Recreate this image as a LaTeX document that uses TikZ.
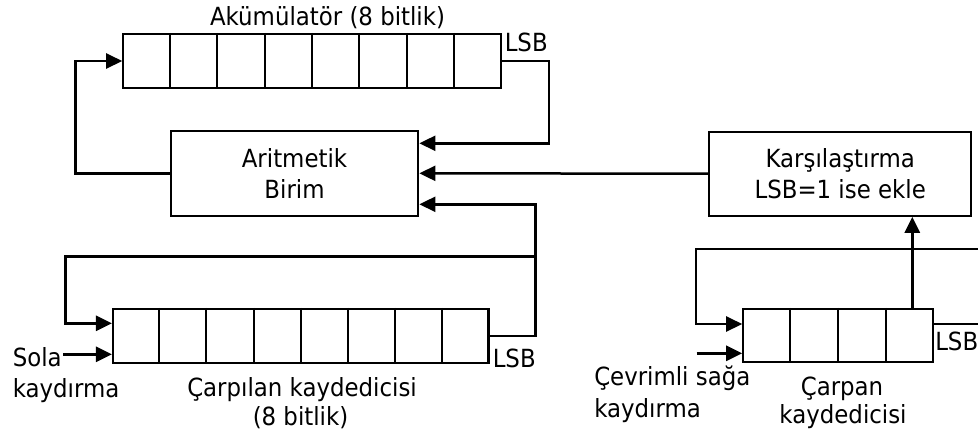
\documentclass[tikz,border=0pt]{standalone}
\usepackage{fontspec}
\setmainfont{DejaVu Sans}[FakeStretch=0.915]
\usetikzlibrary{arrows.meta,calc}
\begin{document}
\begin{tikzpicture}[x=1pt,y=-1pt,
  line width=2.5pt,
  lbl/.style={inner sep=0pt,font=\fontsize{25}{30}\selectfont},
  reg/.style={draw,line width=2.2pt,inner sep=0pt,minimum height=54pt},
  cell/.style={line width=2pt},
  unit/.style={draw,line width=2.2pt,inner sep=0pt,align=center,
               font=\fontsize{25}{31.5}\selectfont},
  arr/.style={-{Triangle[length=16pt,width=15pt]}},
]
\useasboundingbox (0,0) rectangle (978,437);

% registers and units
\node[reg,minimum width=377.4pt] (acc) at (312,61) {};
\node[unit,minimum width=247.6pt,minimum height=84.7pt] (arith) at (294.5,173.3) {Aritmetik\\Birim};
\node[unit,minimum width=261.7pt,minimum height=84pt] (comp) at (840.2,173.7) {Karşılaştırma\\LSB=1 ise ekle};
\node[reg,minimum width=375.5pt] (mcand) at (300.8,336) {};
\node[reg,minimum width=189.4pt,minimum height=53.3pt] (mplier) at (838,335.7) {};

% cell dividers
\foreach \i in {1,...,7}
  \draw[cell] ($(acc.north west)!\i/8!(acc.north east)$) -- ($(acc.south west)!\i/8!(acc.south east)$);
\foreach \i in {1,...,7}
  \draw[cell] ($(mcand.north west)!\i/8!(mcand.north east)$) -- ($(mcand.south west)!\i/8!(mcand.south east)$);
\foreach \i in {1,...,3}
  \draw[cell] ($(mplier.north west)!\i/4!(mplier.north east)$) -- ($(mplier.south west)!\i/4!(mplier.south east)$);

% labels
\node[lbl,anchor=base] (acct) at (327.5,25) {Akümülatör (8 bitlik)};
\node[lbl,anchor=base west] (lsba) at (503.5,51.5) {LSB};
\node[lbl,anchor=base west] (lsbb) at (491.5,367) {LSB};
\node[lbl,anchor=base west] (lsbc) at (934,350.5) {LSB};
\node[lbl,anchor=base west] (sola) at (11.5,366) {Sola};
\node[lbl,anchor=base west] (kay1) at (11.5,397) {kaydırma};
\node[lbl,anchor=base] (mct1) at (302,396) {Çarpılan kaydedicisi};
\node[lbl,anchor=base] (mct2) at (300.5,425.5) {(8 bitlik)};
\node[lbl,anchor=base west] (cev1) at (593,385) {Çevrimli sağa};
\node[lbl,anchor=base west] (cev2) at (593,417) {kaydırma};
\node[lbl,anchor=base] (mpt1) at (842,395) {Çarpan};
\node[lbl,anchor=base] (mpt2) at (843,423.5) {kaydedicisi};

% connectors
\draw[arr] (arith.west) -- ++(-94,0) |- (acc.west);
\draw[arr] (acc.east) -- ++(47,0) |- ([yshift=30pt]arith.east);
\draw[arr] (comp.west) -- (arith.east);
\coordinate (tap) at (535.7,256.7);
\draw[arr] (mcand.east) -- (tap |- mcand.east) |- ([yshift=-31pt]arith.east);
\draw[arr] (tap) -- (65.4,256.7) |- ([yshift=12.7pt]mcand.west);
\coordinate (solain) at (63,354.3);
\draw[arr] (solain) -- (mcand.west |- solain);

\coordinate (mtap) at (912.3,309);
\draw[arr] (mtap) -- (mtap |- comp.south);
\draw[arr] ([yshift=11.7pt]mplier.east) -- (990,324) -- (990,249) -- (696,249) |- ([yshift=11.7pt]mplier.west);
\coordinate (cevin) at (696.7,353.3);
\draw[arr] (cevin) -- (mplier.west |- cevin);
\end{tikzpicture}
\end{document}
